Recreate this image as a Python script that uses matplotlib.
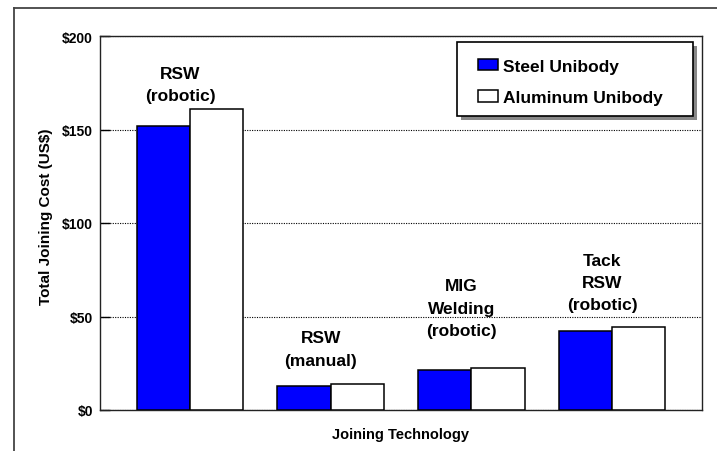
import matplotlib
matplotlib.use("Agg")
import matplotlib.pyplot as plt
from matplotlib.lines import Line2D
from matplotlib.patches import Rectangle
from matplotlib.ticker import FuncFormatter
import numpy as np

plt.rcParams['font.family'] = ['Liberation Sans', 'DejaVu Sans']
plt.rcParams['font.weight'] = 'bold'

categories = ["RSW\n(robotic)", "RSW\n(manual)", "MIG\nWelding\n(robotic)", "Tack\nRSW\n(robotic)"]
steel = [152, 13, 21.5, 42]
aluminum = [161, 14, 22.7, 44.5]
series_names = ["Steel Unibody", "Aluminum Unibody"]
yticks = [0, 50, 100, 150, 200]

# label vertical centres (layout)
label_y = [174, 32.6, 54.5, 68.2]

fig = plt.figure(figsize=(7.17, 4.52), dpi=100)
ax = fig.add_axes([100/717, 41/452, 602/717, 374/452])

x = np.arange(len(categories))
w = 0.379
ax.bar(x - w/2, steel, w, color='#0000FF', edgecolor='black', linewidth=1.1, label=series_names[0], zorder=3)
ax.bar(x + w/2, aluminum, w, color='white', edgecolor='black', linewidth=1.1, label=series_names[1], zorder=3)

for xi, lab, ly in zip(x, categories, label_y):
    ax.text(xi - 0.07, ly, lab, ha='center', va='center', fontsize=12.5, fontweight='bold',
            linespacing=1.62, zorder=4)

ax.set_xlim(-0.64, len(categories) - 1 + 0.64)
ax.set_ylim(0, 200)
ax.set_yticks(yticks)
ax.yaxis.set_major_formatter(FuncFormatter(lambda v, p: f"${v:.0f}"))
ax.set_xticks([])
ax.tick_params(axis='y', direction='in', length=7, width=1, labelsize=10, pad=5)
for t in ax.get_yticklabels():
    t.set_fontweight('bold')
ax.yaxis.grid(True, linestyle=(0, (1, 1.2)), color='black', linewidth=0.8, zorder=0)
for s in ax.spines.values():
    s.set_color('#222222')
    s.set_linewidth(1.0)

ax.set_ylabel("Total Joining Cost (US$)", fontsize=11, fontweight='bold')
ax.yaxis.set_label_coords(-0.078, 0.52)
ax.set_xlabel("Joining Technology", fontsize=10.5, fontweight='bold')
ax.xaxis.set_label_coords(0.5, -0.045)

# legend box (drawn as frame with shadow)
bx0, bw = (457 - 100) / 602, 236 / 602
by0, bh = (411 - 117) / 374, 74 / 374
ax.add_patch(Rectangle((bx0 + 4/602, by0 - 4/374), bw, bh, transform=ax.transAxes,
                       facecolor='#888888', edgecolor='none', zorder=5, clip_on=False))
ax.add_patch(Rectangle((bx0, by0), bw, bh, transform=ax.transAxes,
                       facecolor='white', edgecolor='black', linewidth=1.2, zorder=5.1, clip_on=False))
leg = ax.legend(loc='center left', bbox_to_anchor=((478 - 100) / 602, (411 - 83) / 374), fontsize=12.5,
                frameon=False, handlelength=1.15, handleheight=0.65, handletextpad=0.3,
                labelspacing=0.95, borderpad=0, borderaxespad=0)
leg.set_zorder(6)
for t in leg.get_texts():
    t.set_fontweight('bold')

# outer frame lines
fig.add_artist(Line2D([14/717, 14/717], [0, 1 - 9/452], color='#444444', linewidth=1.3))
fig.add_artist(Line2D([14/717, 1], [1 - 9/452, 1 - 9/452], color='#444444', linewidth=1.3))

fig.savefig("out.png", dpi=100)
